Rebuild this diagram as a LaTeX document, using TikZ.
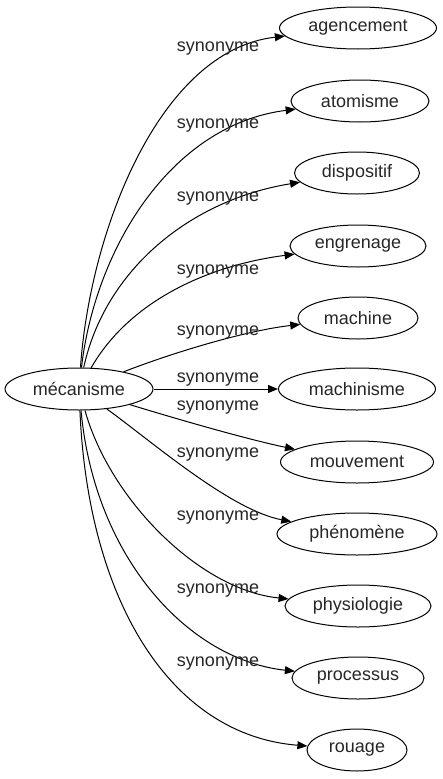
\documentclass[tikz,border=0pt]{standalone}
\usepackage{fontspec}
\setmainfont{Liberation Sans}
\usetikzlibrary{shapes.geometric,arrows.meta}
\tikzset{
  word/.style={draw=black, line width=1, ellipse, inner sep=0, minimum height=42,
    font=\fontsize{18}{20}\selectfont, text=black!85},
  lbl/.style={font=\fontsize{18}{20}\selectfont, text=black!85, inner sep=0},
  syn/.style={draw=black, line width=1, -{Stealth[length=10,width=8,inset=0]}}
}
\begin{document}
\begin{tikzpicture}[x=1pt,y=-1pt]
\useasboundingbox (0,0) rectangle (442,779);
\node[word, minimum width=148] (m) at (79,389) {mécanisme};
\node[word, minimum width=157] (t1) at (358,28) {agencement};
\node[word, minimum width=138] (t2) at (360,101) {atomisme};
\node[word, minimum width=125] (t3) at (357,173) {dispositif};
\node[word, minimum width=136] (t4) at (358,246) {engrenage};
\node[word, minimum width=120] (t5) at (358,318) {machine};
\node[word, minimum width=157] (t6) at (357,389) {machinisme};
\node[word, minimum width=153] (t7) at (357,462) {mouvement};
\node[word, minimum width=160] (t8) at (357,534) {phénomène};
\node[word, minimum width=146] (t9) at (358,606) {physiologie};
\node[word, minimum width=132] (t10) at (358,678) {processus};
\node[word, minimum width=100] (t11) at (357,750) {rouage};

\draw[syn] (m) .. controls (90,230) and (160,50) .. (t1);
\draw[syn] (m) .. controls (95,250) and (170,125) .. (t2);
\draw[syn] (m) .. controls (105,270) and (190,200) .. (t3);
\draw[syn] (m) .. controls (130,300) and (210,265) .. (t4);
\draw[syn] (m) .. controls (180,350) and (250,330) .. (t5);
\draw[syn] (m) -- (t6);
\draw[syn] (m) .. controls (180,420) and (250,440) .. (t7);
\draw[syn] (m) .. controls (150,440) and (230,510) .. (t8);
\draw[syn] (m) .. controls (110,500) and (200,590) .. (t9);
\draw[syn] (m) .. controls (95,560) and (190,660) .. (t10);
\draw[syn] (m) .. controls (88,600) and (170,735) .. (t11);

\node[lbl] (l1) at (218,49) {synonyme};
\node[lbl] (l2) at (218,126) {synonyme};
\node[lbl] (l3) at (218,199) {synonyme};
\node[lbl] (l4) at (218,272) {synonyme};
\node[lbl] (l5) at (218,333) {synonyme};
\node[lbl] (l6) at (218,380) {synonyme};
\node[lbl] (l7) at (218,408) {synonyme};
\node[lbl] (l8) at (218,455) {synonyme};
\node[lbl] (l9) at (218,518) {synonyme};
\node[lbl] (l10) at (218,591) {synonyme};
\node[lbl] (l11) at (218,664) {synonyme};
\end{tikzpicture}
\end{document}
